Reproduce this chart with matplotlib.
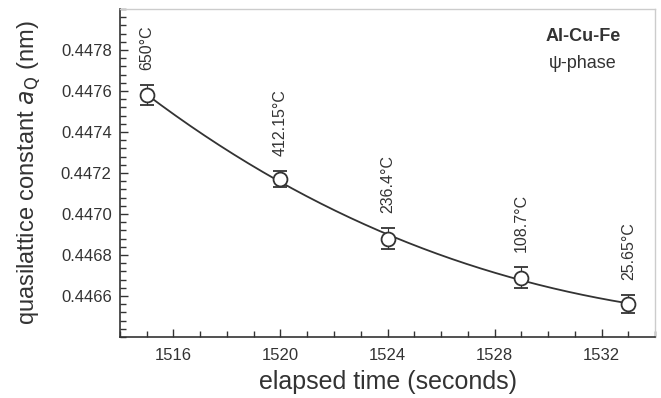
import numpy as np
import matplotlib as mplt
mplt.use("Agg")
import matplotlib.pyplot as plt
from matplotlib.ticker import MultipleLocator, FormatStrFormatter

# data
time_s = [1515, 1520, 1524, 1529, 1533]
a_q = [0.44758, 0.44717, 0.44688, 0.44669, 0.44656]
a_err = [0.00005, 0.00004, 0.00005, 0.00005, 0.000045]
temps = ["650°C", "412.15°C", "236.4°C", "108.7°C", "25.65°C"]

grey = "#333333"
mplt.rcParams.update({'font.family': ['Liberation Sans', 'DejaVu Sans'],
                      'font.size': 11, 'text.color': grey})

fig = plt.figure(figsize=(6.61, 3.98), dpi=100)
ax = fig.add_axes([0.1815, 0.1533, 0.8095, 0.8241])

# smooth trend line through the measurements
coef = np.polyfit(time_s, a_q, 3)
tt = np.linspace(time_s[0], time_s[-1], 200)
ax.plot(tt, np.polyval(coef, tt), color=grey, lw=1.3, zorder=2)

ax.errorbar(time_s, a_q, yerr=a_err, fmt='o', ms=10, mfc='white', mec=grey,
            mew=1.3, ecolor=grey, elinewidth=0.8, capsize=5, capthick=0.8, zorder=3)

for x, y, e, t in zip(time_s, a_q, a_err, temps):
    ax.annotate(t, xy=(x, y + e), xytext=(0, 11), textcoords='offset points',
                rotation=90, ha='center', va='bottom', fontsize=11.5, color=grey)

ax.text(0.865, 0.915, "Al-Cu-Fe", transform=ax.transAxes, ha='center', va='center',
        fontsize=13, fontweight='bold', color=grey)
ax.text(0.865, 0.835, "ψ-phase", transform=ax.transAxes, ha='center', va='center',
        fontsize=13, color=grey)

ax.set_xlim(1514, 1534)
ax.set_ylim(0.4464, 0.4480)
ax.xaxis.set_minor_locator(MultipleLocator(1))
ax.yaxis.set_minor_locator(MultipleLocator(0.00004))
ax.yaxis.set_major_formatter(FormatStrFormatter('%.4f'))
ax.set_xticks([1516, 1520, 1524, 1528, 1532])
ax.set_yticks([0.4466, 0.4468, 0.4470, 0.4472, 0.4474, 0.4476, 0.4478])

ax.tick_params(which='both', direction='in', colors=grey, labelsize=12)
ax.tick_params(which='major', length=6, width=1)
ax.tick_params(axis='x', which='major', pad=8)
ax.tick_params(axis='y', which='major', pad=6)
ax.tick_params(which='minor', length=4, width=1)
ax.tick_params(top=False, right=False, which='both')
for s in ['left', 'bottom']:
    ax.spines[s].set_color(grey)
    ax.spines[s].set_linewidth(1.2)
for s in ['top', 'right']:
    ax.spines[s].set_color('#cccccc')
    ax.spines[s].set_linewidth(1)

ax.set_xlabel("elapsed time (seconds)", fontsize=18, color=grey, labelpad=5)
ax.set_ylabel("quasilattice constant $a_\\mathrm{Q}$ (nm)", fontsize=17, color=grey, labelpad=13)

plt.savefig("out.png", dpi=100)
